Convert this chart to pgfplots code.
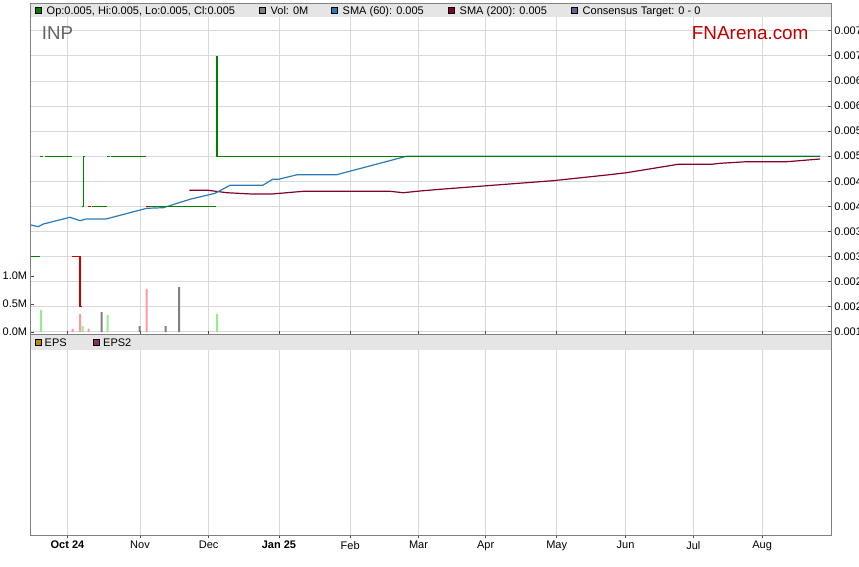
\documentclass[border=0pt]{standalone}
\usepackage{pgfplots}
\pgfplotsset{compat=1.18}
\usepackage{fontspec}
\setmainfont{Liberation Sans}
\definecolor{framegray}{RGB}{128,128,128}
\definecolor{gridgray}{RGB}{217,217,217}
\definecolor{barfill}{RGB}{229,229,229}
\definecolor{pgreen}{RGB}{0,128,0}
\definecolor{pred}{RGB}{204,0,0}
\definecolor{smablue}{RGB}{43,123,185}
\definecolor{smared}{RGB}{128,0,48}
\definecolor{volgreen}{RGB}{144,238,144}
\definecolor{volred}{RGB}{255,153,153}
\definecolor{volgray}{RGB}{128,128,128}
\definecolor{consgray}{RGB}{100,100,150}
\definecolor{epsgold}{RGB}{184,140,0}
\definecolor{epspurple}{RGB}{140,45,110}
\definecolor{inpgray}{RGB}{100,100,100}
\definecolor{fnred}{RGB}{192,0,0}
\newcommand{\tickfont}{\fontsize{11pt}{13pt}\selectfont}
\begin{document}
\begin{tikzpicture}[x=1pt,y=1pt]
\pgfplotsset{
  panel/.style={
    scale only axis, width=801.4pt,
    xmin=30.3, xmax=831.7,
    axis line style={draw=framegray, line width=1pt},
    tick style={draw=black!70, line width=0.8pt},
    major tick length=3.5pt,
    tick label style={font=\tickfont},
    /pgf/number format/assume math mode=true,
  },
}
% ---------------- price panel ----------------
\begin{axis}[panel, at={(30.3pt,-3pt)}, anchor=north west, height=331pt,
  ymin=0.001455, ymax=0.008054,
  xtick={67.5,140,208.7,279,350.2,418.5,485.7,556.7,625.6,693.3,762.1},
  xticklabels={}, x tick style={draw=none},
  ytick={0.0015,0.002,0.0025,0.003,0.0035,0.004,0.0045,0.005,0.0055,0.006,0.0065,0.007,0.0075},
  ytick pos=right, yticklabel pos=right,
  scaled y ticks=false,
  yticklabel style={/pgf/number format/fixed, /pgf/number format/precision=4, inner sep=0pt, xshift=2.5pt, anchor=west},
  xmajorgrids, ymajorgrids,
  grid style={draw=gridgray, line width=0.8pt},
  unbounded coords=jump,
]
% SMA 200
\addplot[smared, line width=1.2pt] coordinates {
(189.3,0.00432)(208.3,0.00432)(226.7,0.004272)(251.7,0.004246)(271.7,0.004246)(303.3,0.0043)(390,0.0043)(403.3,0.004272)(420,0.004306)(440,0.00434)(483.3,0.004406)(553.3,0.004512)(606.7,0.004625)(626.7,0.004671)(678.3,0.004839)(711.7,0.004839)(720,0.004858)(746.7,0.00489)(786.7,0.00489)(820,0.004944)
};
% SMA 60
\addplot[smablue, line width=1.2pt] coordinates {
(31,0.00363)(32.3,0.003622)(38.3,0.003595)(43.3,0.003648)(70,0.003782)(80,0.003714)(86,0.003748)(106,0.003748)(146.7,0.003961)(163.3,0.003973)(190,0.004141)(215,0.00426)(230,0.00442)(262.7,0.00442)(272.7,0.004539)(278.3,0.004539)(297.3,0.004631)(336.7,0.004631)(406.7,0.005)(820,0.005)
};
% price bars (up days)
\addplot[pgreen, line width=1.1pt] coordinates {
(30.8,0.003)(40,0.003)(40,nan)
(40,0.005)(43.3,0.005)(43.3,nan)
(45,0.005)(71.7,0.005)(71.7,nan)
(82.3,0.004)(83.3,0.004)(83.3,0.005)(85,0.005)(85,nan)
(92,0.004)(106.7,0.004)(106.7,nan)
(107.3,0.005)(110,0.005)(110,nan)
(111.3,0.005)(145.7,0.005)(145.7,nan)
(149,0.004)(215.7,0.004)(215.7,nan)
(217,0.007)(217,0.005)(820,0.005)
};
% price bars (down days)
\addplot[pred, line width=1.1pt] coordinates {
(72.3,0.003)(80,0.003)(80,0.002)(81.7,0.002)(81.7,nan)
(88.3,0.004)(90.7,0.004)(90.7,nan)
(146,0.004)(149,0.004)
};
\end{axis}
% ---------------- volume (same panel) ----------------
\begin{axis}[panel, at={(30.3pt,-3pt)}, anchor=north west, height=331pt,
  ymin=-0.0357, ymax=5.875,
  xtick=\empty,
  ytick={0,0.5,1}, yticklabels={0.0M,0.5M,1.0M},
  ytick pos=left, yticklabel pos=left,
  yticklabel style={inner sep=0pt, xshift=-3pt, anchor=east},
]
\addplot[ybar, bar width=2pt, bar shift=0pt, fill=volgreen, draw=none] coordinates {(41,0.393)(82.7,0.107)(107.7,0.30)(217,0.32)};
\addplot[ybar, bar width=2pt, bar shift=0pt, fill=volred, draw=none] coordinates {(72.7,0.054)(80,0.32)(88.7,0.054)(146.7,0.77)};
\addplot[ybar, bar width=2pt, bar shift=0pt, fill=volgray, draw=none] coordinates {(101.7,0.357)(139.7,0.107)(165.7,0.107)(179,0.80)};
\end{axis}
% ---------------- EPS panel ----------------
\begin{axis}[panel, at={(30.3pt,-334pt)}, anchor=north west, height=201pt,
  ymin=0, ymax=1, ytick=\empty,
  xtick={67.5,140,208.7,279,350.2,418.5,485.7,556.7,625.6,693.3,762.1},
  xticklabels={\textbf{Oct 24},Nov,Dec,\textbf{Jan 25},Feb,Mar,Apr,May,Jun,Jul,Aug},
  tick align=outside, major tick length=3pt,
  xticklabel style={inner sep=0pt, yshift=-3pt, anchor=north},
  xmajorgrids, grid style={draw=gridgray, line width=0.8pt},
]
\addplot[draw=none] coordinates {(30.3,0)};
\end{axis}
% ---------------- legend bars ----------------
\fill[barfill] (30.8,-3.5) rectangle (831.2,-17);
\fill[barfill] (30.8,-334.5) rectangle (831.2,-350);
\begin{scope}[every node/.style={font=\tickfont, inner sep=0pt, anchor=base west}]
\filldraw[fill=pgreen, draw=black, line width=0.6pt] (35,-7.2) rectangle (41,-13.2);
\node at (46.5,-14.2) {Op:0.005, Hi:0.005, Lo:0.005, Cl:0.005};
\filldraw[fill=volgray, draw=black, line width=0.6pt] (259.5,-7.2) rectangle (265.5,-13.2);
\node at (270.5,-14.2) {Vol: 0M};
\filldraw[fill=smablue, draw=black, line width=0.6pt] (331.5,-7.2) rectangle (337.5,-13.2);
\node at (342.5,-14.2) {SMA (60): 0.005};
\filldraw[fill=smared, draw=black, line width=0.6pt] (448.5,-7.2) rectangle (454.5,-13.2);
\node at (459.5,-14.2) {SMA (200): 0.005};
\filldraw[fill=consgray, draw=black, line width=0.6pt] (571,-7.2) rectangle (577,-13.2);
\node at (582.5,-14.2) {Consensus Target: 0 - 0};
\filldraw[fill=epsgold, draw=black, line width=0.6pt] (35,-339.5) rectangle (41,-345.5);
\node at (44.5,-346.5) {EPS};
\filldraw[fill=epspurple, draw=black, line width=0.6pt] (93.5,-339.5) rectangle (99.5,-345.5);
\node at (103,-346.5) {EPS2};
\node[font=\fontsize{18.7pt}{22pt}\selectfont, text=inpgray] at (41.7,-39) {INP};
\node[font=\fontsize{18.9pt}{22pt}\selectfont, text=fnred] at (691.7,-39) {FNArena.com};
\end{scope}
\pgfresetboundingbox
\useasboundingbox (0,0) rectangle (859,-566);
\end{tikzpicture}
\end{document}
